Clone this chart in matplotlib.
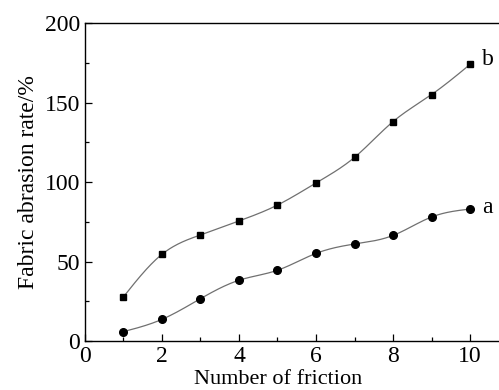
import numpy as np
import matplotlib
matplotlib.use("Agg")
import matplotlib.pyplot as plt
from matplotlib.ticker import MultipleLocator

# friction count and abrasion rate of the two samples
friction = [1, 2, 3, 4, 5, 6, 7, 8, 9, 10]
rate_a = [5.9, 13.6, 26.6, 38.2, 44.5, 55.1, 61.0, 66.4, 78.0, 83.0]
rate_b = [27.7, 54.5, 66.7, 75.5, 85.5, 99.4, 115.5, 138.0, 155.0, 174.0]
x_ticks = [0, 2, 4, 6, 8, 10]
y_ticks = [0, 50, 100, 150, 200]


def natural_spline(x, y, n=300):
    # natural cubic spline, only used to draw the smooth connecting line
    x = np.asarray(x, float)
    y = np.asarray(y, float)
    k = len(x)
    h = np.diff(x)
    A = np.zeros((k, k))
    r = np.zeros(k)
    A[0, 0] = A[-1, -1] = 1
    for i in range(1, k - 1):
        A[i, i - 1] = h[i - 1]
        A[i, i] = 2 * (h[i - 1] + h[i])
        A[i, i + 1] = h[i]
        r[i] = 6 * ((y[i + 1] - y[i]) / h[i] - (y[i] - y[i - 1]) / h[i - 1])
    m = np.linalg.solve(A, r)
    xs = np.linspace(x[0], x[-1], n)
    idx = np.clip(np.searchsorted(x, xs) - 1, 0, k - 2)
    t0 = x[idx + 1] - xs
    t1 = xs - x[idx]
    hi = h[idx]
    ys = (m[idx] * t0 ** 3 + m[idx + 1] * t1 ** 3) / (6 * hi) \
        + (y[idx] / hi - m[idx] * hi / 6) * t0 \
        + (y[idx + 1] / hi - m[idx + 1] * hi / 6) * t1
    return xs, ys


FONT = 'Liberation Serif'
plt.rcParams['font.family'] = 'serif'
plt.rcParams['font.serif'] = [FONT]

fig = plt.figure(figsize=(4.99, 3.90), dpi=100)
ax = fig.add_axes([0.170, 0.1256, 0.830, 0.8154])

for vals, mk, ms in [(rate_b, 's', 5), (rate_a, 'o', 5.5)]:
    xs, ys = natural_spline(friction, vals)
    ax.plot(xs, ys, color='#707070', lw=0.9)
    ax.plot(friction, vals, linestyle='none', marker=mk, ms=ms, color='black')

ax.text(10.3, rate_b[-1] + 3, 'b', fontsize=17, va='center', family=FONT)
ax.text(10.3, rate_a[-1] + 1, 'a', fontsize=17, va='center', family=FONT)

ax.set_xlim(0, 10.75)
ax.set_ylim(0, 200)
ax.set_xticks(x_ticks, [str(t) for t in x_ticks], fontfamily=FONT, fontsize=17)
ax.set_yticks(y_ticks, [str(t) for t in y_ticks], fontfamily=FONT, fontsize=17)
ax.xaxis.set_minor_locator(MultipleLocator(1))
ax.yaxis.set_minor_locator(MultipleLocator(25))
ax.tick_params(which='both', direction='in', top=False, right=False)
ax.tick_params(which='major', length=5, width=0.9)
ax.tick_params(which='minor', length=3, width=0.9)
ax.spines['right'].set_visible(False)
for s in ['left', 'bottom', 'top']:
    ax.spines[s].set_linewidth(1.0)

ax.set_xlabel('Number of friction', fontsize=16, family=FONT)
ax.xaxis.set_label_coords(0.466, -0.092)
ax.set_ylabel('Fabric abrasion rate/%', fontsize=17, labelpad=4, family=FONT)

fig.savefig('out.png', dpi=100)
